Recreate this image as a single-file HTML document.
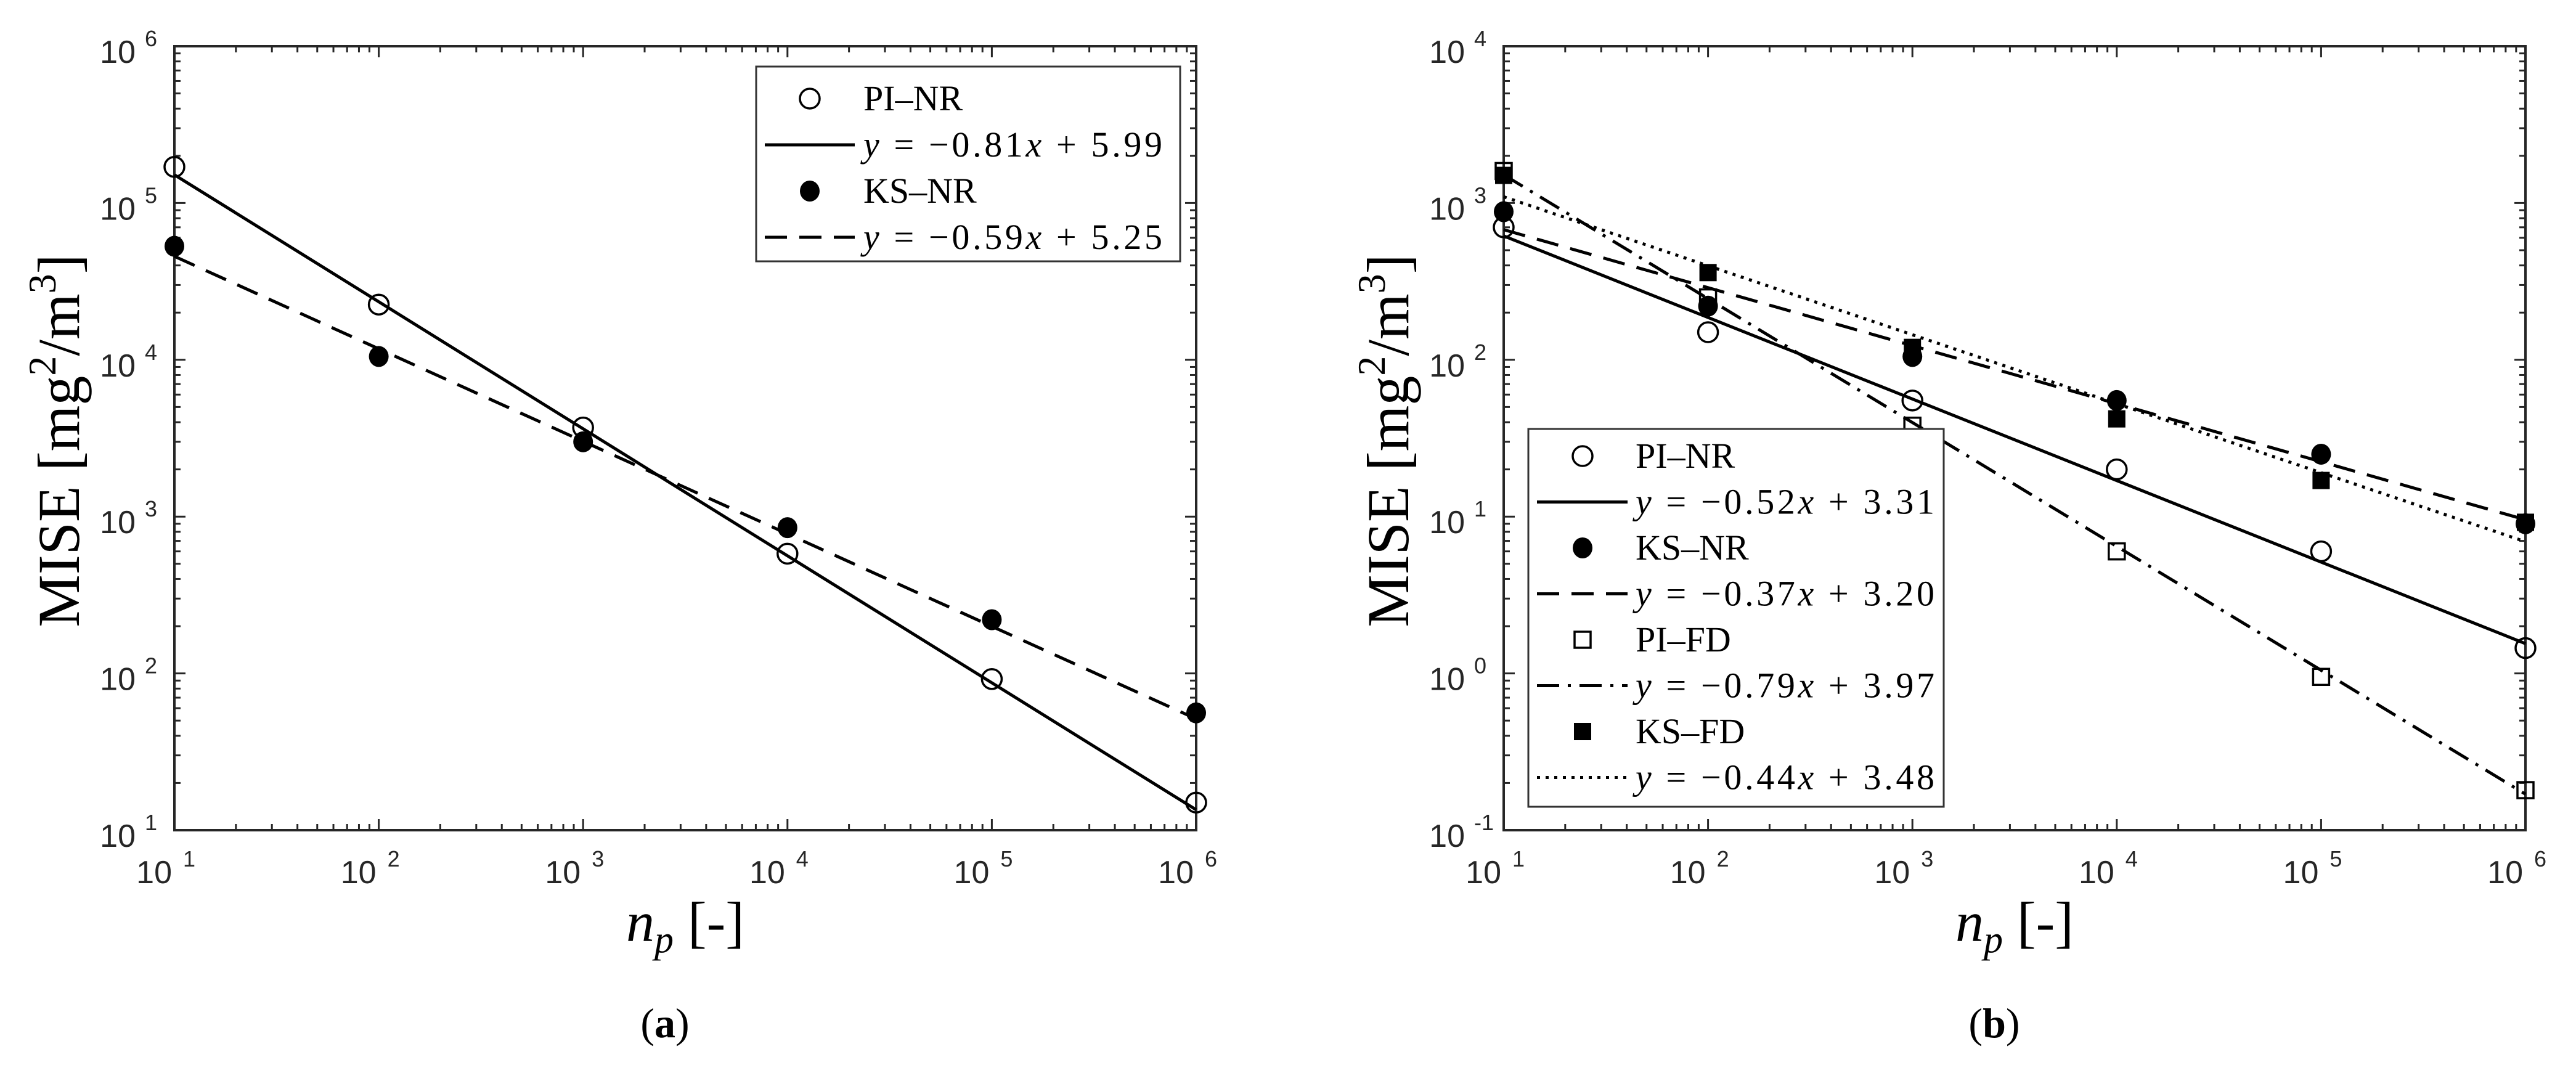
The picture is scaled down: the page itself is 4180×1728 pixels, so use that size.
<!DOCTYPE html>
<html><head><meta charset="utf-8"><style>
html,body{margin:0;padding:0;background:#fff;}
svg{display:block;}
text{font-family:"Liberation Serif",serif;fill:#000;}
.tick{font-family:"Liberation Sans",sans-serif;fill:#262626;}
</style></head><body>
<svg id="fig" width="4180" height="1728" viewBox="0 0 4180 1728" xmlns="http://www.w3.org/2000/svg"></svg>
<script>
const NS="http://www.w3.org/2000/svg";
// ---- data ----
const xDecades=[1,2,3,4,5,6];
const nValues=[10,100,1000,10000,100000,1000000];
// panel a
const aPINR=[170000,22500,3700,580,92,15];
const aKSNR=[53000,10500,3000,850,220,56];
const aSlopes=[-0.81,-0.59];
const aIntercepts=[5.99,5.25];
const aYTicks=[1,2,3,4,5,6];
// panel b
const bPINR=[700,150,55,20,6,1.45];
const bKSNR=[880,220,105,55,25,9];
const bPIFD=[1600,250,38,6,0.95,0.18];
const bKSFD=[1500,360,120,42,17,9.2];
const bSlopes=[-0.52,-0.37,-0.79,-0.44];
const bIntercepts=[3.31,3.20,3.97,3.48];
const bYTicks=[-1,0,1,2,3,4];

const svg=document.getElementById('fig');
function el(tag,attrs,parent){const e=document.createElementNS(NS,tag);for(const k in attrs)e.setAttribute(k,attrs[k]);(parent||svg).appendChild(e);return e;}

function makePanel(cfg){
  const g=el('g',{});
  
  
  const L=cfg.left,R=cfg.right,T=75,B=1347;
  const xMin=1,xMax=6,yMin=cfg.yMin,yMax=cfg.yMax;
  const sx=v=>L+(Math.log10(v)-xMin)/(xMax-xMin)*(R-L);
  const sxe=e=>L+(e-xMin)/(xMax-xMin)*(R-L);
  const sy=v=>B-(Math.log10(v)-yMin)/(yMax-yMin)*(B-T);
  const sye=e=>B-(e-yMin)/(yMax-yMin)*(B-T);
  const tk=el('g',{stroke:'#262626','stroke-width':3},g);
  
  
  for(let d=xMin;d<=xMax;d++){
    for(let m=1;m<=9;m++){
      if(d===xMax&&m>1)break;
      const x=sxe(d+Math.log10(m));const len=m===1?18:10;
      el('line',{x1:x,y1:B,x2:x,y2:B-len},tk);el('line',{x1:x,y1:T,x2:x,y2:T+len},tk);
    }
  }
  for(let d=yMin;d<=yMax;d++){
    for(let m=1;m<=9;m++){
      if(d===yMax&&m>1)break;
      const y=sye(d+Math.log10(m));const len=m===1?18:10;
      el('line',{x1:L,y1:y,x2:L+len,y2:y},tk);el('line',{x1:R,y1:y,x2:R-len,y2:y},tk);
    }
  }
  const box=el('rect',{x:L,y:T,width:R-L,height:B-T,fill:'none',stroke:'#262626','stroke-width':4},g);
  
  
  xDecades.forEach(d=>{
    const x=sxe(d);
    const t=el('text',{x:x-4,y:1433,'text-anchor':'end','font-size':52,class:'tick'},g);t.textContent='10';
    
    
    const s=el('text',{x:x+14,y:1406,'font-size':36,class:'tick'},g);s.textContent=String(d);
  });
  cfg.yTicks.forEach(d=>{
    const y=sye(d);
    const t=el('text',{x:L-63,y:y+27,'text-anchor':'end','font-size':52,class:'tick'},g);t.textContent='10';
    
    
    const s=el('text',{x:L-48,y:y,'font-size':36,class:'tick'},g);s.textContent=String(d);
  });
  const xl=el('text',{x:(L+R)/2,y:1527,'text-anchor':'middle','font-size':92},g);
  
  
  xl.innerHTML='<tspan font-style="italic">n</tspan><tspan font-style="italic" font-size="62" dy="18">p</tspan><tspan dy="-18"> [-]</tspan>';
  const cy=(T+B)/2+4,cx=L-155;
  const yl=el('text',{x:cx,y:cy,'text-anchor':'middle','font-size':96,transform:`rotate(-90 ${cx} ${cy})`},g);
  
  
  yl.innerHTML='MISE [mg<tspan font-size="64" dy="-38">2</tspan><tspan dy="38">/m</tspan><tspan font-size="64" dy="-38">3</tspan><tspan dy="38">]</tspan>';
  const cap=el('text',{x:(L+R)/2-33,y:1683,'text-anchor':'middle','font-size':68},g);
  
  
  cap.innerHTML='(<tspan font-weight="bold">'+cfg.caption+'</tspan>)';
  cfg.fits.forEach((f,i)=>{
    const ln=el('line',{x1:sxe(1),y1:sye(cfg.slopes[i]*1+cfg.intercepts[i]),x2:sxe(6),y2:sye(cfg.slopes[i]*6+cfg.intercepts[i]),stroke:'#000','stroke-width':5,'stroke-dasharray':f.dash},g);
    
    
  });
  cfg.series.forEach(s=>{
    const sg=el('g',{},g);
    
    
    s.data.forEach((v,i)=>{
      drawMarker(sg,s.marker,sx(nValues[i]),sy(v));
    });
  });
  const lg=el('g',{},g);
  
  
  const lb=cfg.legend;
  el('rect',{x:lb.x,y:lb.y,width:lb.w,height:lb.h,fill:'#fff',stroke:'#333','stroke-width':3},lg);
  cfg.legendRows.forEach((r,i)=>{
    const yc=lb.r0+i*lb.dy;
    const row=el('g',{},lg);
    
    
    if(r.marker)drawMarker(row,r.marker,lb.mx,yc);
    else el('line',{x1:lb.l1,y1:yc,x2:lb.l2,y2:yc,stroke:'#000','stroke-width':5,'stroke-dasharray':r.dash},row);
    const t=el('text',{x:lb.tx,y:yc+19,'font-size':58},row);
    if(r.label){t.textContent=r.label;}
    else{
      const sl=Math.abs(r.slope).toFixed(2),ic=r.icpt.toFixed(2);
      t.setAttribute('textLength',485);t.setAttribute('lengthAdjust','spacing');
      t.innerHTML='<tspan font-style="italic">y</tspan> = −'+sl+'<tspan font-style="italic">x</tspan> + '+ic;
    }
  });
}
function drawMarker(p,m,x,y){
  if(m==='oc')el('circle',{cx:x,cy:y,r:16,fill:'none',stroke:'#000','stroke-width':3.5},p);
  else if(m==='fc')el('ellipse',{cx:x,cy:y,rx:16,ry:17,fill:'#000'},p);
  else if(m==='os')el('rect',{x:x-13,y:y-13,width:26,height:26,fill:'none',stroke:'#000','stroke-width':3.5},p);
  else if(m==='fs')el('rect',{x:x-14,y:y-14,width:28,height:28,fill:'#000'},p);
}
const DASH='36 20',DOT='5 9',DASHDOT='36 14 5 14',SOLID='none';
makePanel({name:'panel-a',left:283,right:1941,yMin:1,yMax:6,yTicks:aYTicks,caption:'a',
  slopes:aSlopes,intercepts:aIntercepts,
  fits:[{name:'pi-nr',dash:SOLID},{name:'ks-nr',dash:DASH}],
  series:[{name:'pi-nr',marker:'oc',data:aPINR},{name:'ks-nr',marker:'fc',data:aKSNR}],
  legend:{x:1227,y:108,w:688,h:316,r0:160,dy:75,mx:1314,l1:1241,l2:1387,tx:1401},
  legendRows:[{marker:'oc',label:'PI–NR'},{dash:SOLID,slope:aSlopes[0],icpt:aIntercepts[0]},
    {marker:'fc',label:'KS–NR'},{dash:DASH,slope:aSlopes[1],icpt:aIntercepts[1]}]
});
makePanel({name:'panel-b',left:2440,right:4098,yMin:-1,yMax:4,yTicks:bYTicks,caption:'b',
  slopes:bSlopes,intercepts:bIntercepts,
  fits:[{name:'pi-nr',dash:SOLID},{name:'ks-nr',dash:DASH},{name:'pi-fd',dash:DASHDOT},{name:'ks-fd',dash:DOT}],
  series:[{name:'pi-nr',marker:'oc',data:bPINR},{name:'ks-nr',marker:'fc',data:bKSNR},{name:'pi-fd',marker:'os',data:bPIFD},{name:'ks-fd',marker:'fs',data:bKSFD}],
  legend:{x:2480,y:696,w:674,h:613,r0:740,dy:74.5,mx:2568,l1:2494,l2:2641,tx:2654},
  legendRows:[{marker:'oc',label:'PI–NR'},{dash:SOLID,slope:bSlopes[0],icpt:bIntercepts[0]},
    {marker:'fc',label:'KS–NR'},{dash:DASH,slope:bSlopes[1],icpt:bIntercepts[1]},
    {marker:'os',label:'PI–FD'},{dash:DASHDOT,slope:bSlopes[2],icpt:bIntercepts[2]},
    {marker:'fs',label:'KS–FD'},{dash:DOT,slope:bSlopes[3],icpt:bIntercepts[3]}]
});
</script>
</body></html>
